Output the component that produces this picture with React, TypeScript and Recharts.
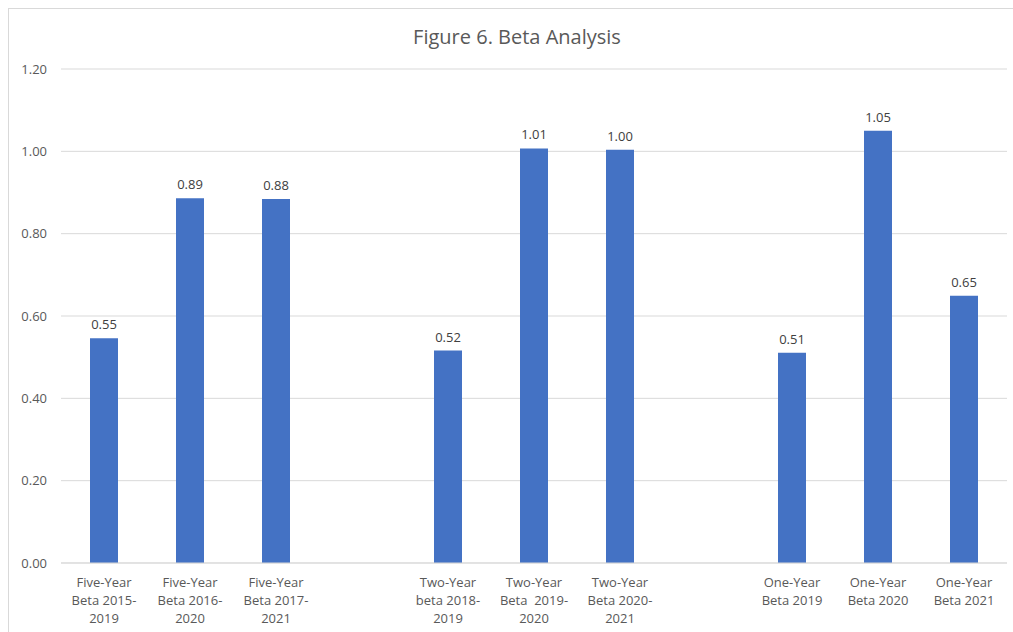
import React from "react"
import { BarChart, Bar, XAxis, YAxis, CartesianGrid, LabelList } from "recharts"

// category labels, one line per entry (blank slots separate the groups)
const categories: string[][] = [
  ["Five-Year", "Beta 2015-", "2019"],
  ["Five-Year", "Beta 2016-", "2020"],
  ["Five-Year", "Beta 2017-", "2021"],
  [],
  ["Two-Year", "beta 2018-", "2019"],
  ["Two-Year", "Beta  2019-", "2020"],
  ["Two-Year", "Beta 2020-", "2021"],
  [],
  ["One-Year", "Beta 2019"],
  ["One-Year", "Beta 2020"],
  ["One-Year", "Beta 2021"],
]
const betaValues: (number | null)[] = [0.546, 0.886, 0.884, null, 0.516, 1.007, 1.004, null, 0.511, 1.05, 0.649]
const yTicks = [0, 0.2, 0.4, 0.6, 0.8, 1.0, 1.2]

const data = categories.map((lines, i) => ({ key: "c" + i, lines, beta: betaValues[i] }))

const font = "'Open Sans', 'Liberation Sans', sans-serif"

function CategoryTick(props: any) {
  const { x, y, payload } = props
  const row = data.find((d) => d.key === payload.value)
  const lines = row ? row.lines : []
  return (
    <text x={x} y={y} textAnchor="middle" fill="#595959" fontSize={13} fontFamily={font} style={{ whiteSpace: "pre" }}>
      {lines.map((l, i) => (
        <tspan key={i} x={x} dy={i === 0 ? 16 : 18}>
          {l}
        </tspan>
      ))}
    </text>
  )
}

export default function App() {
  return (
    <div style={{ position: "absolute", left: 0, top: 0, width: 1013, height: 632, overflow: "hidden", background: "#fff" }}>
      <div
        style={{
          position: "absolute",
          left: 8,
          top: 8,
          width: 1100,
          height: 700,
          border: "1px solid #d9d9d9",
        }}
      />
      <div
        style={{
          position: "absolute",
          left: 0,
          top: 23,
          width: 1034,
          textAlign: "center",
          fontFamily: font,
          fontSize: 20,
          color: "#595959",
        }}
      >
        Figure 6. Beta Analysis
      </div>
      <BarChart
        width={1013}
        height={632}
        data={data}
        margin={{ top: 69, right: 6, bottom: 0, left: 0 }}
        style={{ position: "absolute", left: 0, top: 0 }}
      >
        <CartesianGrid vertical={false} stroke="#d9d9d9" />
        <XAxis
          dataKey="key"
          height={69}
          interval={0}
          tickLine={false}
          axisLine={{ stroke: "#d9d9d9" }}
          tick={<CategoryTick />}
        />
        <YAxis
          width={61}
          domain={[0, 1.2]}
          ticks={yTicks}
          tickLine={false}
          axisLine={false}
          tickSize={0}
          tickMargin={14}
          tickFormatter={(v: number) => v.toFixed(2)}
          tick={{ fill: "#595959", fontSize: 13, fontFamily: font }}
        />
        <Bar dataKey="beta" fill="#4472C4" barSize={28} isAnimationActive={false}>
          <LabelList
            dataKey="beta"
            position="top"
            offset={9}
            formatter={(v: any) => (v == null ? "" : Number(v).toFixed(2))}
            style={{ fill: "#404040", fontSize: 13, fontFamily: font }}
          />
        </Bar>
      </BarChart>
    </div>
  )
}
